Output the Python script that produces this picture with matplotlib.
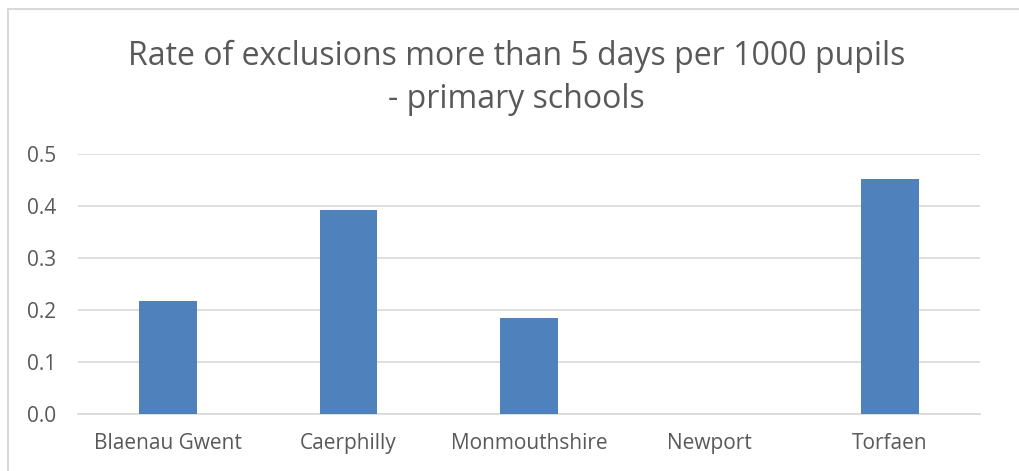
import matplotlib
matplotlib.use('Agg')
import matplotlib.pyplot as plt
from matplotlib.patches import Rectangle

# values
areas = ['Blaenau Gwent', 'Caerphilly', 'Monmouthshire', 'Newport', 'Torfaen']
rates = [0.218, 0.392, 0.184, 0.0, 0.451]
yticks = [0.0, 0.1, 0.2, 0.3, 0.4, 0.5]

plt.rcParams['font.family'] = ['Open Sans', 'DejaVu Sans']

W, H = 1019, 471
fig = plt.figure(figsize=(W / 100, H / 100), dpi=100)
ax = fig.add_axes([78 / W, 1 - 414 / H, (980 - 78) / W, (414 - 154) / H])

# chart border (cropped on right and bottom)
fig.patches.append(Rectangle((8 / W, -0.1), 1.2, 1 - 9 / H + 0.1,
                             transform=fig.transFigure, fill=False,
                             edgecolor='#D9D9D9', linewidth=1.5))

x = range(len(areas))
ax.bar(x, rates, width=0.32, color='#4F81BD', zorder=3)

ax.set_xlim(-0.5, len(areas) - 0.5)
ax.set_ylim(0, 0.5)
ax.set_yticks(yticks)
ax.set_yticklabels(['%.1f' % v for v in yticks])
ax.set_xticks(list(x))
ax.set_xticklabels(areas)
ax.yaxis.grid(True, color='#D9D9D9', linewidth=1.2, zorder=0)
for s in ['top', 'right', 'left']:
    ax.spines[s].set_visible(False)
ax.spines['bottom'].set_color('#D9D9D9')
ax.spines['bottom'].set_linewidth(1.2)
ax.tick_params(axis='both', length=0, colors='#595959', labelsize=15)
ax.tick_params(axis='y', pad=16)
ax.tick_params(axis='x', pad=14)

fig.text(0.507, 1 - 78 / H, 'Rate of exclusions more than 5 days per 1000 pupils\n- primary schools',
         ha='center', va='center', fontsize=23, color='#595959', linespacing=1.4)

fig.savefig('out.png', dpi=100)
